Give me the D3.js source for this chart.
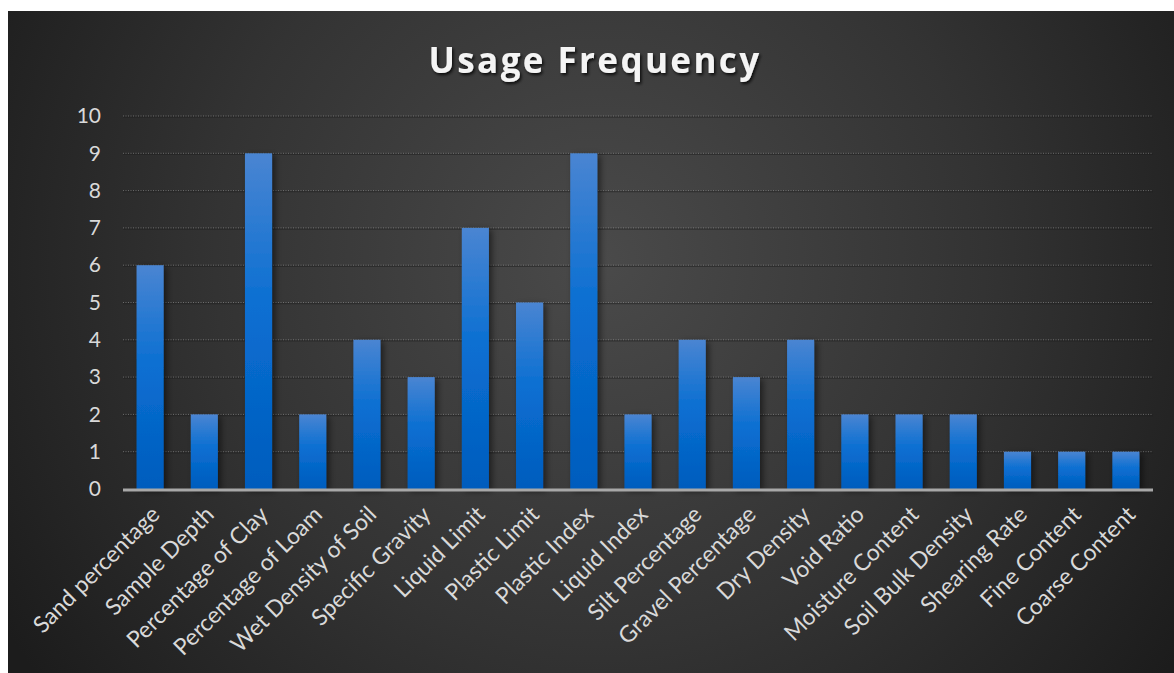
<!DOCTYPE html>
<html>
<head>
<meta charset="utf-8">
<script src="https://cdn.jsdelivr.net/npm/d3@7"></script>
<style>
  body { margin: 0; background: #fff; }
  svg { display: block; }
</style>
</head>
<body>
<div class="chart"></div>
<script>
// chart data
var categories = ["Sand percentage", "Sample Depth", "Percentage of Clay", "Percentage of Loam",
  "Wet Density of Soil", "Specific Gravity", "Liquid Limit", "Plastic Limit", "Plastic Index",
  "Liquid Index", "Silt Percentage", "Gravel Percentage", "Dry Density", "Void Ratio",
  "Moisture Content", "Soil Bulk Density", "Shearing Rate", "Fine Content", "Coarse Content"];
var usageValues = [6, 2, 9, 2, 4, 3, 7, 5, 9, 2, 4, 3, 4, 2, 2, 2, 1, 1, 1];
var yTicks = [0, 1, 2, 3, 4, 5, 6, 7, 8, 9, 10];
var chartTitle = "Usage Frequency";

// dimensions
var svgWidth = 1174;
var svgHeight = 673;
var margin = { top: 116, right: 21, bottom: 184, left: 123 };
var width = svgWidth - margin.left - margin.right;
var height = svgHeight - margin.top - margin.bottom;

var svg = d3.select(".chart")
  .append("svg")
  .attr("width", svgWidth)
  .attr("height", svgHeight);

var defs = svg.append("defs");

// background gradient
var bg = defs.append("radialGradient")
  .attr("id", "bgGrad")
  .attr("gradientUnits", "userSpaceOnUse")
  .attr("cx", 600).attr("cy", 260).attr("r", 700);
bg.append("stop").attr("offset", "0%").attr("stop-color", "#4a4a4a");
bg.append("stop").attr("offset", "55%").attr("stop-color", "#333333");
bg.append("stop").attr("offset", "100%").attr("stop-color", "#1c1c1c");

// bar gradient
var barGrad = defs.append("linearGradient")
  .attr("id", "barGrad")
  .attr("x1", 0).attr("y1", 0).attr("x2", 0).attr("y2", 1);
barGrad.append("stop").attr("offset", "0%").attr("stop-color", "#4a85d2");
barGrad.append("stop").attr("offset", "45%").attr("stop-color", "#0a6fd2");
barGrad.append("stop").attr("offset", "100%").attr("stop-color", "#005cbd");

var shadow = defs.append("filter").attr("id", "barShadow")
  .attr("x", "-30%").attr("y", "-10%").attr("width", "170%").attr("height", "130%");
shadow.append("feDropShadow")
  .attr("dx", 3).attr("dy", 2).attr("stdDeviation", 3)
  .attr("flood-color", "#000").attr("flood-opacity", 0.5);

var titleShadow = defs.append("filter").attr("id", "titleShadow")
  .attr("x", "-10%").attr("y", "-30%").attr("width", "120%").attr("height", "160%");
titleShadow.append("feDropShadow")
  .attr("dx", 1.5).attr("dy", 2).attr("stdDeviation", 1.5)
  .attr("flood-color", "#000").attr("flood-opacity", 0.8);

// panel
svg.append("rect")
  .attr("x", 8).attr("y", 11)
  .attr("width", svgWidth - 8).attr("height", svgHeight - 11)
  .attr("fill", "url(#bgGrad)");

// title
svg.append("text")
  .attr("x", 595)
  .attr("y", 73)
  .attr("text-anchor", "middle")
  .attr("font-family", "'Open Sans', sans-serif")
  .attr("font-weight", "bold")
  .attr("font-size", "35px")
  .attr("letter-spacing", "2.4px")
  .attr("fill", "#f4f4f4")
  .attr("filter", "url(#titleShadow)")
  .text(chartTitle);

var chartGroup = svg.append("g")
  .attr("transform", `translate(${margin.left}, ${margin.top})`);

// scales
var xBandScale = d3.scaleBand()
  .domain(categories)
  .range([0, width])
  .paddingInner(0.5)
  .paddingOuter(0.25);

var yLinearScale = d3.scaleLinear()
  .domain([0, 10])
  .range([height, 0]);

// gridlines: dark shadow line + light dotted line
var grid = chartGroup.append("g");
grid.selectAll("line.shade")
  .data(yTicks.slice(1))
  .enter()
  .append("line")
  .attr("class", "shade")
  .attr("x1", 0).attr("x2", width)
  .attr("y1", d => yLinearScale(d) + 1)
  .attr("y2", d => yLinearScale(d) + 1)
  .attr("stroke", "#1e1e1e")
  .attr("stroke-opacity", 0.5)
  .attr("stroke-width", 1.5);
grid.selectAll("line.dot")
  .data(yTicks.slice(1))
  .enter()
  .append("line")
  .attr("class", "dot")
  .attr("x1", 0).attr("x2", width)
  .attr("y1", d => yLinearScale(d))
  .attr("y2", d => yLinearScale(d))
  .attr("stroke", "#9a9a9a")
  .attr("stroke-opacity", 0.6)
  .attr("stroke-dasharray", "1,1.5")
  .attr("stroke-width", 1);

// y axis
var leftAxis = d3.axisLeft(yLinearScale)
  .tickValues(yTicks)
  .tickSize(0)
  .tickPadding(22)
  .tickFormat(d3.format("d"));

var yAxisG = chartGroup.append("g").call(leftAxis);
yAxisG.select(".domain").remove();
yAxisG.selectAll("text")
  .attr("font-family", "Lato, 'Open Sans', sans-serif")
  .attr("font-size", "21px")
  .attr("fill", "#d9d9d9");

// bars
chartGroup.append("g")
  .selectAll("rect")
  .data(usageValues)
  .enter()
  .append("rect")
  .attr("x", (d, i) => xBandScale(categories[i]))
  .attr("y", d => yLinearScale(d))
  .attr("width", xBandScale.bandwidth())
  .attr("height", d => height - yLinearScale(d))
  .attr("fill", "url(#barGrad)")
  .attr("filter", "url(#barShadow)");

// baseline
chartGroup.append("line")
  .attr("x1", 0).attr("x2", width)
  .attr("y1", height + 1).attr("y2", height + 1)
  .attr("stroke", "#a8a8a8")
  .attr("stroke-width", 3);

// x labels
var bottomAxis = d3.axisBottom(xBandScale).tickSize(0);
var xAxisG = chartGroup.append("g")
  .attr("transform", `translate(0, ${height})`)
  .call(bottomAxis);
xAxisG.select(".domain").remove();
xAxisG.selectAll("text")
  .attr("font-family", "Lato, 'Open Sans', sans-serif")
  .attr("font-size", "23px")
  .attr("fill", "#d9d9d9")
  .attr("text-anchor", "end")
  .attr("dy", "0")
  .attr("y", 0)
  .attr("transform", "translate(11, 27) rotate(-45)");
</script>
</body>
</html>
